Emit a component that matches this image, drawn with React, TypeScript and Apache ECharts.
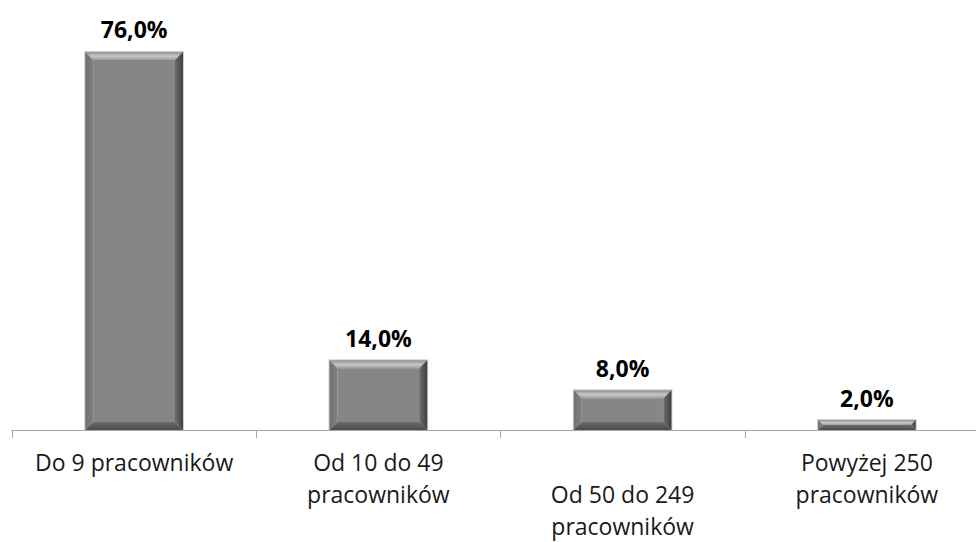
import React, { useEffect, useRef } from "react";
import * as echarts from "echarts";

// Company size groups and their share of respondents (%)
const categories = [
  "Do 9 pracowników",
  "Od 10 do 49\npracowników",
  "Od 50 do 249\npracowników",
  "Powyżej 250\npracowników",
];
const shares = [76.0, 14.0, 8.0, 2.0];

const FONT = "'Open Sans', 'Noto Sans', sans-serif";

function fmtPct(v: number): string {
  return v.toFixed(1).replace(".", ",") + "%";
}

export default function App() {
  const ref = useRef<HTMLDivElement>(null);

  useEffect(() => {
    if (!ref.current) return;
    const chart = echarts.init(ref.current, null, { renderer: "svg" });

    // Bevelled bar: flat face with lit top edge and shaded sides/bottom
    const renderBevelBar = (params: any, api: any) => {
      const idx = api.value(0);
      const val = api.value(1);
      const top = api.coord([idx, val]);
      const base = api.coord([idx, 0]);
      const w = api.size([1, 0])[0] * 0.4;
      const x0 = top[0] - w / 2;
      const x1 = top[0] + w / 2;
      const y0 = top[1];
      const y1 = base[1];
      const h = y1 - y0;
      const b = Math.min(8, h / 2);
      const ix0 = x0 + b;
      const ix1 = x1 - b;
      const iy0 = y0 + b;
      const iy1 = y1 - b;
      return {
        type: "group",
        children: [
          {
            type: "rect",
            shape: { x: x0 - 1, y: y0 - 1, width: w + 2, height: h + 1 },
            style: { fill: "#d0d0d0" },
          },
          {
            type: "rect",
            shape: { x: ix0, y: iy0, width: ix1 - ix0, height: Math.max(0, iy1 - iy0) },
            style: { fill: "#868686" },
          },
          {
            // top bevel (lit)
            type: "polygon",
            shape: { points: [[x0, y0], [x1, y0], [ix1, iy0], [ix0, iy0]] },
            style: {
              fill: new echarts.graphic.LinearGradient(0, 0, 0, 1, [
                { offset: 0, color: "#909090" },
                { offset: 0.55, color: "#c8c8c8" },
                { offset: 1, color: "#9c9c9c" },
              ]),
            },
          },
          {
            // left bevel
            type: "polygon",
            shape: { points: [[x0, y0], [ix0, iy0], [ix0, iy1], [x0, y1]] },
            style: {
              fill: new echarts.graphic.LinearGradient(0, 0, 1, 0, [
                { offset: 0, color: "#707070" },
                { offset: 1, color: "#828282" },
              ]),
            },
          },
          {
            // right bevel
            type: "polygon",
            shape: { points: [[x1, y0], [x1, y1], [ix1, iy1], [ix1, iy0]] },
            style: {
              fill: new echarts.graphic.LinearGradient(0, 0, 1, 0, [
                { offset: 0, color: "#6c6c6c" },
                { offset: 1, color: "#404040" },
              ]),
            },
          },
          {
            // bottom bevel
            type: "polygon",
            shape: { points: [[x0, y1], [ix0, iy1], [ix1, iy1], [x1, y1]] },
            style: {
              fill: new echarts.graphic.LinearGradient(0, 0, 0, 1, [
                { offset: 0, color: "#6c6c6c" },
                { offset: 1, color: "#4a4a4a" },
              ]),
            },
          },
          {
            type: "text",
            x: top[0],
            y: y0 - 11,
            style: {
              text: fmtPct(val),
              align: "center",
              verticalAlign: "bottom",
              font: `bold 23px ${FONT}`,
              fill: "#000000",
            },
          },
        ],
      };
    };

    chart.setOption({
      animation: false,
      backgroundColor: "#ffffff",
      grid: { left: 12, right: 11, top: 32, bottom: 105, containLabel: false },
      xAxis: {
        type: "category",
        data: categories,
        axisLine: { show: true, lineStyle: { color: "#a6a6a6", width: 1 } },
        axisTick: { show: true, length: 8, lineStyle: { color: "#a6a6a6" } },
        axisLabel: {
          interval: 0,
          margin: 16,
          color: "#1a1a1a",
          fontFamily: FONT,
          fontSize: 23,
          lineHeight: 32,
          formatter: (v: string, i: number) => (i === 2 ? "\n" + v : v),
        },
      },
      yAxis: {
        type: "value",
        min: 0,
        max: 80,
        show: false,
        splitLine: { show: false },
      },
      series: [
        {
          type: "custom",
          renderItem: renderBevelBar,
          data: shares.map((v, i) => [i, v]),
          encode: { x: 0, y: 1 },
        },
      ],
    });

    return () => chart.dispose();
  }, []);

  // The plot runs past the right edge of the frame, so the frame clips it
  return (
    <div
      style={{
        position: "fixed",
        left: 0,
        top: 0,
        width: 976,
        height: 542,
        overflow: "hidden",
        background: "#ffffff",
      }}
    >
      <div ref={ref} style={{ width: 1000, height: 542 }} />
    </div>
  );
}
